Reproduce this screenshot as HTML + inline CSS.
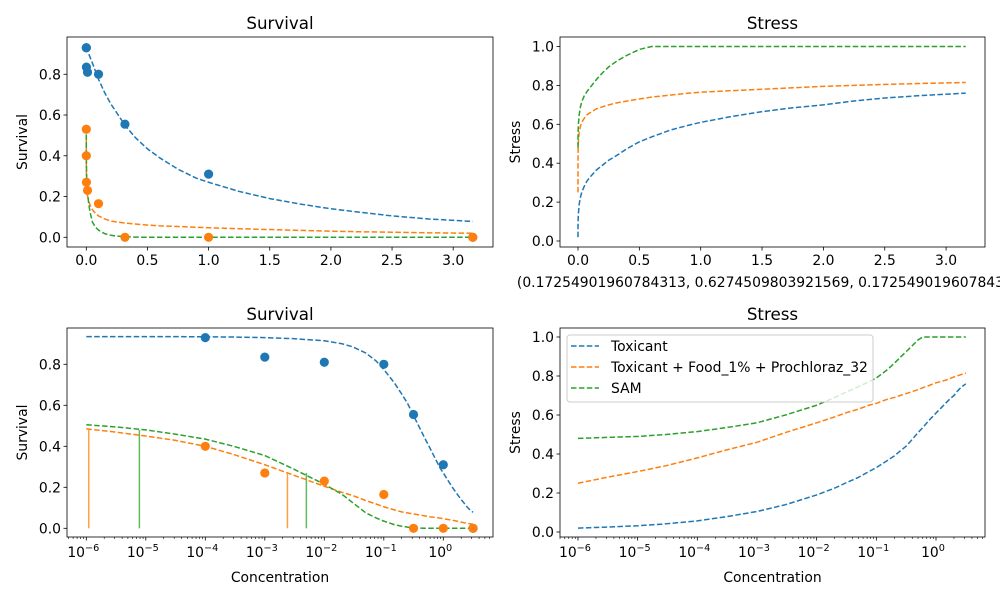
<!DOCTYPE html>
<html><head><meta charset="utf-8"><style>
html,body{margin:0;padding:0;background:#fff}
svg text{font-family:"DejaVu Sans","Liberation Sans",sans-serif;fill:#000}
</style></head><body>
<svg id="fig" width="1000" height="600" viewBox="0 0 1000 600" xmlns="http://www.w3.org/2000/svg"></svg>
<script>
// Sample concentrations for fitted curves
const curveConc = [1e-6,3e-6,1e-5,3e-5,1e-4,3e-4,1e-3,3e-3,1e-2,2e-2,3e-2,5e-2,0.075,0.1,0.15,0.2,0.25,0.316,0.4,0.5,0.6,0.75,0.9,1,1.25,1.5,1.75,2,2.25,2.5,2.8,3.16];
const survToxicant = [0.935,0.935,0.935,0.935,0.934,0.933,0.93,0.925,0.915,0.9,0.885,0.855,0.815,0.775,0.71,0.655,0.61,0.55,0.49,0.434,0.39,0.334,0.29,0.27,0.225,0.19,0.163,0.14,0.122,0.105,0.09,0.078];
const survCombined = [0.485,0.47,0.45,0.43,0.40,0.36,0.31,0.26,0.205,0.175,0.16,0.135,0.118,0.105,0.09,0.08,0.075,0.07,0.065,0.06,0.056,0.053,0.049,0.047,0.042,0.038,0.034,0.03,0.027,0.025,0.022,0.02];
const survSAM = [0.505,0.495,0.48,0.46,0.435,0.40,0.355,0.29,0.215,0.165,0.125,0.075,0.05,0.035,0.018,0.01,0.006,0.003,0.001,0,0,0,0,0,0,0,0,0,0,0,0,0];
const stressToxicant = [0.02,0.025,0.032,0.042,0.057,0.078,0.105,0.14,0.19,0.225,0.25,0.28,0.31,0.33,0.365,0.39,0.415,0.44,0.475,0.51,0.535,0.57,0.595,0.61,0.64,0.665,0.685,0.70,0.72,0.735,0.748,0.76];
const stressCombined = [0.25,0.28,0.31,0.34,0.38,0.42,0.46,0.51,0.56,0.59,0.61,0.63,0.65,0.66,0.68,0.69,0.70,0.71,0.72,0.73,0.74,0.75,0.76,0.765,0.773,0.78,0.788,0.795,0.80,0.805,0.81,0.815];
const stressSAM = [0.48,0.485,0.49,0.50,0.515,0.535,0.56,0.60,0.65,0.69,0.715,0.745,0.77,0.79,0.83,0.865,0.895,0.925,0.955,0.985,1,1,1,1,1,1,1,1,1,1,1,1];
// Observed data
const obsConc = [0,1e-4,1e-3,1e-2,0.1,0.316,1,3.16];
const obsToxicant = [0.93,0.93,0.835,0.81,0.80,0.555,0.31,0];
const obsCombined = [0.53,0.40,0.27,0.23,0.165,0,0,0];
// Vertical marker lines (LC positions)
const vlineCombinedX = [1.1e-6,2.4e-3];
const vlineCombinedY = [0.48,0.27];
const vlineSAMX = [7.8e-6,5e-3];
const vlineSAMY = [0.48,0.27];
const linTicks = [0,0.5,1,1.5,2,2.5,3];
const linTickLabels = ["0.0","0.5","1.0","1.5","2.0","2.5","3.0"];
const logTickExps = [-6,-5,-4,-3,-2,-1,0];
const survTicks = [0,0.2,0.4,0.6,0.8];
const stressTicks = [0,0.2,0.4,0.6,0.8,1.0];

const C1='#1f77b4',C2='#ff7f0e',C3='#2ca02c';
const FS=13.9;
const svg=document.getElementById('fig');
const NS='http://www.w3.org/2000/svg';
function mk(tag,attrs,parent){const e=document.createElementNS(NS,tag);for(const k in attrs)e.setAttribute(k,attrs[k]);(parent||svg).appendChild(e);return e;}

function panel(o){
  const g=mk('g',{});
  
  
  const X=o.log?(v=>o.x0+o.xs*Math.log10(v)):(v=>o.x0+o.xs*v);
  const Y=v=>o.y0-o.ys*v;
  (o.yt).forEach(v=>{
    const y=Y(v);
    mk('line',{x1:o.L-3.5,x2:o.L,y1:y,y2:y,stroke:'#000','stroke-width':0.8},g);
    const t=mk('text',{x:o.L-6,y:y+5,'text-anchor':'end','font-size':FS},g);t.textContent=v.toFixed(1);
    
    
  });
  if(o.log){
    for(let d=-7;d<=1;d++)for(let m=2;m<=9;m++){const x=X(m*Math.pow(10,d));if(x>o.L&&x<o.R)mk('line',{x1:x,x2:x,y1:o.B,y2:o.B+2,stroke:'#000','stroke-width':0.6},g);}
    logTickExps.forEach(e=>{const x=X(Math.pow(10,e));
      mk('line',{x1:x,x2:x,y1:o.B,y2:o.B+3.5,stroke:'#000','stroke-width':0.8},g);
      const t=mk('text',{x:x-3,y:o.B+20,'text-anchor':'middle','font-size':FS},g);
      
      
      t.appendChild(document.createTextNode('10'));
      const s=mk('tspan',{dy:-6,'font-size':9.7},t);s.textContent=e===0?'0':'\u2212'+(-e);
    });
  } else {
    linTicks.forEach((v,i)=>{const x=X(v);
      mk('line',{x1:x,x2:x,y1:o.B,y2:o.B+3.5,stroke:'#000','stroke-width':0.8},g);
      const t=mk('text',{x:x,y:o.B+18,'text-anchor':'middle','font-size':FS},g);t.textContent=linTickLabels[i];
      
      
    });
  }
  const tt=mk('text',{x:(o.L+o.R)/2,y:o.T-8,'text-anchor':'middle','font-size':16.7},g);tt.textContent=o.title;
  
  
  const yl=mk('text',{x:0,y:0,'text-anchor':'middle','font-size':FS,transform:`translate(${o.L-40},${(o.T+o.B)/2}) rotate(-90)`},g);yl.textContent=o.ylabel;
  
  
  if(o.xlabel){const xl=mk('text',{x:(o.L+o.R)/2,y:o.B+45,'text-anchor':'middle','font-size':FS},g);xl.textContent=o.xlabel;
    
    }
  const clipId='c'+o.name;
  const cp=mk('clipPath',{id:clipId},g);mk('rect',{x:o.L,y:o.T,width:o.R-o.L,height:o.B-o.T},cp);
  const pg=mk('g',{'clip-path':`url(#${clipId})`},g);
  o.draw(pg,X,Y);
  const fr=mk('rect',{x:o.L,y:o.T,width:o.R-o.L,height:o.B-o.T,fill:'none',stroke:'#000','stroke-width':0.8},g);
  
  
}
function curve(g,X,Y,xs,ys,color,name){
  const p=mk('path',{d:xs.map((x,i)=>(i?'L':'M')+X(x).toFixed(2)+','+Y(ys[i]).toFixed(2)).join(''),fill:'none',stroke:color,'stroke-width':1.5,'stroke-dasharray':'5.5,2.4','stroke-linejoin':'round'},g);
  
  
}
function dots(g,X,Y,xs,ys,color,log,name){
  xs.forEach((x,i)=>{if(log&&x<=0)return;
    const c=mk('circle',{cx:X(x),cy:Y(ys[i]),r:4.6,fill:color},g);
    
    });
}
function vlines(g,X,Y,xs,ys,color,name){
  xs.forEach((x,i)=>{const l=mk('line',{x1:X(x),x2:X(x),y1:Y(0),y2:Y(ys[i]),stroke:color,'stroke-width':1.5,'stroke-opacity':0.75},g);
    
    });
}

panel({name:'survival-linear-panel',L:67,R:493,T:37,B:247,x0:86.3,xs:122.3,y0:237.3,ys:203.8,yt:survTicks,title:'Survival',ylabel:'Survival',
  draw:(g,X,Y)=>{curve(g,X,Y,curveConc,survToxicant,C1,'toxicant-survival-curve');curve(g,X,Y,curveConc,survCombined,C2,'combined-survival-curve');curve(g,X,Y,curveConc,survSAM,C3,'sam-survival-curve');
    dots(g,X,Y,obsConc,obsToxicant,C1,false,'toxicant-point');dots(g,X,Y,obsConc,obsCombined,C2,false,'combined-point');}});
panel({name:'stress-linear-panel',L:560,R:985,T:37,B:247,x0:578,xs:122.7,y0:241,ys:194.5,yt:stressTicks,title:'Stress',ylabel:'Stress',
  draw:(g,X,Y)=>{curve(g,X,Y,curveConc,stressToxicant,C1,'toxicant-stress-curve');curve(g,X,Y,curveConc,stressCombined,C2,'combined-stress-curve');curve(g,X,Y,curveConc,stressSAM,C3,'sam-stress-curve');}});
panel({name:'survival-log-panel',log:true,L:67,R:493,T:328,B:537,x0:443.3,xs:59.5,y0:528.3,ys:205,yt:survTicks,title:'Survival',ylabel:'Survival',xlabel:'Concentration',
  draw:(g,X,Y)=>{vlines(g,X,Y,vlineCombinedX,vlineCombinedY,C2,'combined-lc-line');vlines(g,X,Y,vlineSAMX,vlineSAMY,C3,'sam-lc-line');
    curve(g,X,Y,curveConc,survToxicant,C1,'toxicant-survival-curve');curve(g,X,Y,curveConc,survCombined,C2,'combined-survival-curve');curve(g,X,Y,curveConc,survSAM,C3,'sam-survival-curve');
    dots(g,X,Y,obsConc,obsToxicant,C1,true,'toxicant-point');dots(g,X,Y,obsConc,obsCombined,C2,true,'combined-point');}});
panel({name:'stress-log-panel',log:true,L:560,R:985,T:328,B:537,x0:936,xs:59.67,y0:532,ys:195,yt:stressTicks,title:'Stress',ylabel:'Stress',xlabel:'Concentration',
  draw:(g,X,Y)=>{curve(g,X,Y,curveConc,stressToxicant,C1,'toxicant-stress-curve');curve(g,X,Y,curveConc,stressCombined,C2,'combined-stress-curve');curve(g,X,Y,curveConc,stressSAM,C3,'sam-stress-curve');}});

const tup=mk('text',{x:772,y:287,'text-anchor':'middle','font-size':FS});
tup.textContent='(0.17254901960784313, 0.6274509803921569, 0.17254901960784313)';



const lg=mk('g',{});


mk('rect',{x:567,y:335,width:306,height:67,rx:3,fill:'#fff','fill-opacity':0.8,stroke:'#ccc','stroke-width':1},lg);
[['Toxicant',C1,346],['Toxicant + Food_1% + Prochloraz_32',C2,367],['SAM',C3,388]].forEach(([lab,col,y])=>{
  const e=mk('g',{},lg);
  
  
  mk('line',{x1:571,x2:599,y1:y,y2:y,stroke:col,'stroke-width':1.5,'stroke-dasharray':'5.5,2.4'},e);
  const t=mk('text',{x:611,y:y+5,'font-size':FS},e);t.textContent=lab;
});
</script>
</body></html>
